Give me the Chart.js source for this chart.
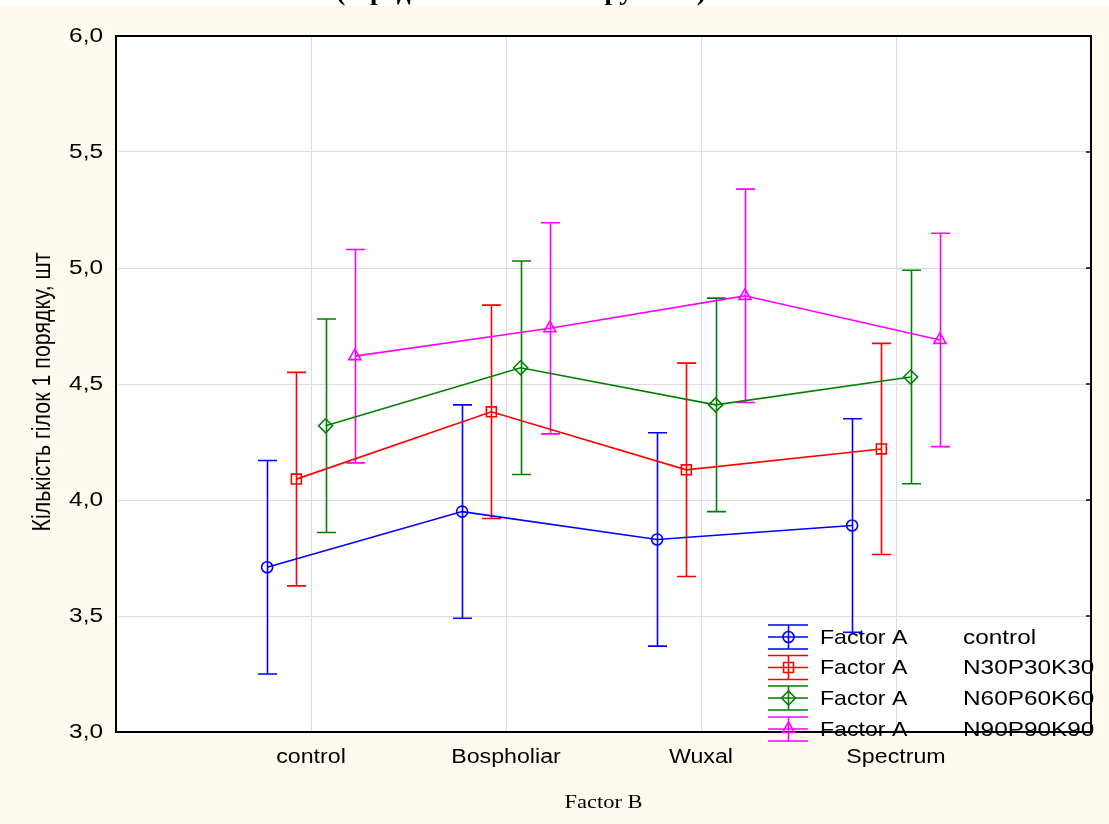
<!DOCTYPE html>
<html>
<head>
<meta charset="utf-8">
<script src="https://cdn.jsdelivr.net/npm/chart.js@4.4.1/dist/chart.umd.min.js"></script>
<style>
  html, body { margin: 0; padding: 0; background: #fffaf0; }
  #wrap { width: 1109px; height: 824px; }
</style>
</head>
<body>
<div id="wrap"><canvas id="myChart" width="1109" height="824"></canvas></div>
<script>
// categories of Factor B
var categories = ["control", "Bospholiar", "Wuxal", "Spectrum"];
// Factor A levels
var levels = ["control", "N30P30K30", "N60P60K60", "N90P90K90"];
var yTicks = [3.0, 3.5, 4.0, 4.5, 5.0, 5.5, 6.0];

// means per level (one value per category)
var meanControl = [3.71, 3.95, 3.83, 3.89];
var meanN30 = [4.09, 4.38, 4.13, 4.22];
var meanN60 = [4.32, 4.57, 4.41, 4.53];
var meanN90 = [4.62, 4.74, 4.88, 4.69];

// half widths of the error bars
var errControl = [0.46, 0.46, 0.46, 0.46];
var errN30 = [0.46, 0.46, 0.46, 0.455];
var errN60 = [0.46, 0.46, 0.46, 0.46];
var errN90 = [0.46, 0.455, 0.46, 0.46];

var colors = ["#0000ff", "#ff0000", "#008000", "#ff00ff"];
var markers = ["circle", "rect", "rectRot", "triangle"];
var radii = [5.5, 7, 7, 7];
var shift = [-0.225, -0.075, 0.075, 0.225];

var means = [meanControl, meanN30, meanN60, meanN90];
var errs = [errControl, errN30, errN60, errN90];

var datasets = [];
for (var s = 0; s < levels.length; s++) {
  var pts = [];
  for (var c = 0; c < categories.length; c++) {
    pts.push({ x: c + 1 + shift[s], y: means[s][c], err: errs[s][c] });
  }
  datasets.push({
    label: "Factor A " + levels[s],
    data: pts,
    borderColor: colors[s],
    borderWidth: 1.6,
    pointStyle: markers[s],
    pointRadius: radii[s],
    pointBorderWidth: 1.6,
    pointBackgroundColor: "rgba(0,0,0,0)",
    pointBorderColor: colors[s],
    tension: 0
  });
}

var serif = "'Liberation Serif', 'Times New Roman', serif";
var sans = "'Liberation Sans', Arial, sans-serif";

// text stretched sideways, like the original export
function wideText(ctx, txt, x, y, sx, sy, align) {
  ctx.save();
  ctx.translate(x, y);
  ctx.scale(sx, sy);
  ctx.textAlign = align;
  ctx.fillText(txt, 0, 0);
  ctx.restore();
}

var statPlugin = {
  id: "statPlugin",
  beforeDraw: function (chart) {
    var ctx = chart.ctx, a = chart.chartArea;
    ctx.save();
    ctx.fillStyle = "#fffaf0";
    ctx.fillRect(0, 0, chart.width, chart.height);
    ctx.fillStyle = "#ffffff";
    ctx.fillRect(0, 0, chart.width, 6);
    ctx.fillRect(a.left, a.top, a.right - a.left, a.bottom - a.top);
    ctx.restore();
  },
  beforeDatasetsDraw: function (chart) {
    var ctx = chart.ctx;
    var xs = chart.scales.x, ys = chart.scales.y;
    ctx.save();
    ctx.lineWidth = 1.6;
    chart.data.datasets.forEach(function (ds) {
      ctx.strokeStyle = ds.borderColor;
      ds.data.forEach(function (p) {
        var px = Math.round(xs.getPixelForValue(p.x)) + 0.5;
        var top = ys.getPixelForValue(p.y + p.err);
        var bot = ys.getPixelForValue(p.y - p.err);
        ctx.beginPath();
        ctx.moveTo(px, top); ctx.lineTo(px, bot);
        ctx.moveTo(px - 9.5, top); ctx.lineTo(px + 9.5, top);
        ctx.moveTo(px - 9.5, bot); ctx.lineTo(px + 9.5, bot);
        ctx.stroke();
      });
    });
    ctx.restore();
  },
  afterDraw: function (chart) {
    var ctx = chart.ctx, a = chart.chartArea, ys = chart.scales.y, xs = chart.scales.x;
    ctx.save();
    // frame
    ctx.strokeStyle = "#000";
    ctx.lineWidth = 2;
    ctx.strokeRect(a.left, a.top, a.right - a.left, a.bottom - a.top);
    // small inner ticks on the right edge
    ctx.lineWidth = 1.5;
    yTicks.forEach(function (v) {
      var py = ys.getPixelForValue(v);
      ctx.beginPath();
      ctx.moveTo(a.right - 5, py); ctx.lineTo(a.right, py);
      ctx.stroke();
    });
    ctx.fillStyle = "#000";
    ctx.textBaseline = "middle";
    // tick labels
    ctx.font = "20px " + sans;
    yTicks.forEach(function (v) {
      wideText(ctx, v.toFixed(1).replace(".", ","), 103, ys.getPixelForValue(v), 1.22, 1, "right");
    });
    categories.forEach(function (c, i) {
      wideText(ctx, c, xs.getPixelForValue(i + 1), 757, 1.16, 1, "center");
    });
    // truncated title at the very top
    ctx.font = "bold 26px " + serif;
    ctx.textBaseline = "alphabetic";
    wideText(ctx, "(середні значення за групами)", 521, 0, 1.05, 1, "center");
    // axis titles
    ctx.textBaseline = "middle";
    ctx.font = "18px " + serif;
    wideText(ctx, "Factor B", (a.left + a.right) / 2, 803, 1.25, 1, "center");
    ctx.save();
    ctx.translate(43, 392);
    ctx.rotate(-Math.PI / 2);
    ctx.font = "20px " + sans;
    wideText(ctx, "Кількість гілок 1 порядку, шт", 0, 0, 1.07, 1.3, "center");
    ctx.restore();
    // legend
    var rowY = [637, 667.5, 698, 729];
    ctx.font = "21px " + sans;
    chart.data.datasets.forEach(function (ds, i) {
      var cy = rowY[i], cx = 788.5;
      ctx.strokeStyle = ds.borderColor;
      ctx.fillStyle = "rgba(0,0,0,0)";
      ctx.lineWidth = 1.6;
      ctx.beginPath();
      ctx.moveTo(768, cy - 12); ctx.lineTo(808, cy - 12);
      ctx.moveTo(768, cy); ctx.lineTo(808, cy);
      ctx.moveTo(768, cy + 12); ctx.lineTo(808, cy + 12);
      ctx.moveTo(cx, cy - 12); ctx.lineTo(cx, cy + 12);
      ctx.stroke();
      Chart.helpers.drawPoint(ctx, {
        pointStyle: ds.pointStyle, radius: ds.pointRadius,
        borderWidth: 1.6, rotation: 0
      }, cx, cy);
      ctx.fillStyle = "#000";
      wideText(ctx, "Factor A", 820, cy + 1, 1.1, 1, "left");
      wideText(ctx, levels[i], 963, cy + 1, 1.16, 1, "left");
    });
    ctx.restore();
  }
};

var ctx = document.getElementById("myChart").getContext("2d");
var myChart = new Chart(ctx, {
  type: "line",
  data: { datasets: datasets },
  plugins: [statPlugin],
  options: {
    responsive: false,
    animation: false,
    layout: { padding: { top: 36, right: 18, left: 0, bottom: 0 } },
    plugins: { legend: { display: false }, tooltip: { enabled: false } },
    scales: {
      x: {
        type: "linear",
        min: 0,
        max: 5,
        afterFit: function (scale) { scale.height = 92; },
        afterBuildTicks: function (scale) {
          scale.ticks = categories.map(function (c, i) { return { value: i + 1 }; });
        },
        ticks: { display: false },
        grid: { color: "#dcdcdc", lineWidth: 1, drawTicks: false },
        border: { display: false }
      },
      y: {
        min: 3,
        max: 6,
        afterFit: function (scale) { scale.width = 116; },
        afterBuildTicks: function (scale) {
          scale.ticks = yTicks.map(function (v) { return { value: v }; });
        },
        ticks: { display: false },
        grid: { color: "#dcdcdc", lineWidth: 1, drawTicks: false },
        border: { display: false }
      }
    }
  }
});
</script>
</body>
</html>
